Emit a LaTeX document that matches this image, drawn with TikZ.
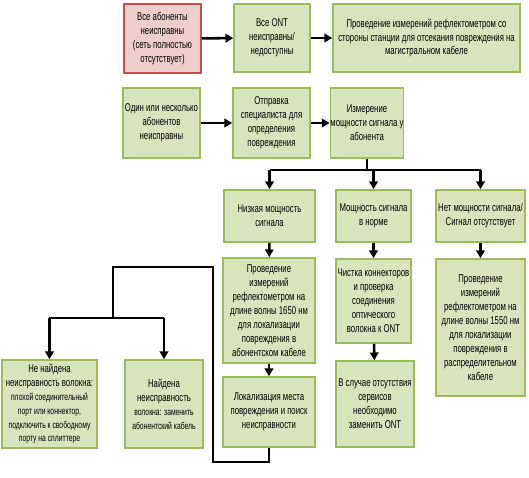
\documentclass[tikz,border=0pt]{standalone}
\usepackage{fontspec}
\setmainfont{Liberation Sans}[FakeStretch=0.69]
\usetikzlibrary{arrows.meta}
\newcommand{\smalltxt}{\fontsize{7}{9.2}\selectfont}
\begin{document}
\begin{tikzpicture}[x=0.025cm,y=-0.025cm,
  box/.style={draw=boxline,fill=boxfill,line width=1.1pt,align=center,inner sep=0pt,
    font=\fontsize{8}{9.9}\selectfont},
  bad/.style={box,draw=badline,fill=badfill},
  sz/.style 2 args={minimum width=#1*0.025cm,minimum height=#2*0.025cm},
  link/.style={line width=1.8pt},
  arr/.style={link,-{Triangle[length=5.5pt,width=6pt]}}]
\definecolor{boxfill}{RGB}{215,228,189}
\definecolor{boxline}{RGB}{155,187,89}
\definecolor{badfill}{RGB}{238,206,205}
\definecolor{badline}{RGB}{192,80,77}
	\useasboundingbox (0,0) rectangle (529,478);
	% top row
	\node[bad,sz={77}{69}] (all) at (162.5,38.5) {Все абоненты\\неисправны\\(сеть полностью\\отсутствует)};
	\node[box,sz={76}{68}] (ont) at (272,38) {Все ONT\\неисправны/\\недоступны};
	\node[box,sz={187}{68}] (otdr) at (426.5,38) {Проведение измерений рефлектометром со\\стороны станции для отсекания повреждения на\\магистральном кабеле};
	% second row
	\node[box,sz={77}{70}] (some) at (161.5,123) {Один или несколько\\абонентов\\неисправны};
	\node[box,sz={77}{70}] (tech) at (271.5,123) {Отправка\\специалиста для\\определения\\повреждения};
	\node[box,sz={70}{70}] (meas) at (367,123) {Измерение\\мощности сигнала у\\абонента};
	% signal levels
	\node[box,sz={91}{52}] (low) at (269.5,216) {Низкая мощность\\сигнала};
	\node[box,sz={75}{52}] (norm) at (373.5,216) {Мощность сигнала\\в норме};
	\node[box,sz={89}{52}] (none) at (480.5,216) {Нет мощности сигнала/\\Сигнал отсутствует};
	\node[box,sz={92}{105}] (r1650) at (269,310.5) {Проведение\\измерений\\рефлектометром на\\длине волны 1650 нм\\для локализации\\повреждения в\\абонентском кабеле};
	\node[box,sz={92}{70}] (loc) at (269,412) {Локализация места\\повреждения и поиск\\неисправности};
	\node[box,sz={75}{84}] (clean) at (373.5,301) {Чистка коннекторов\\и проверка\\соединения\\оптического\\волокна к ONT};
	\node[box,sz={78}{86}] (repl) at (375,404) {В случае отсутствия\\сервисов\\необходимо\\заменить ONT};
	\node[box,sz={89}{137}] (r1550) at (480.5,327.5) {Проведение\\измерений\\рефлектометром на\\длине волны 1550 нм\\для локализации\\повреждения в\\распределительном\\кабеле};
	% results
	\node[box,sz={95}{88}] (port) at (49.5,404) {Не найдена\\неисправность волокна:\\{\smalltxt плохой соединительный}\\{\smalltxt порт или коннектор,}\\{\smalltxt подключить к свободному}\\{\smalltxt порту на сплиттере}};
	\node[box,sz={78}{88}] (cable) at (164,404) {Найдена\\неисправность\\{\smalltxt волокна: заменить}\\{\smalltxt абонентский кабель}};
	\coordinate (fork) at (371,170);
	\coordinate (b1) at (269,462);
	\coordinate (b2) at (213,462);
	\coordinate (b3) at (213,267);
	\coordinate (b4) at (113,267);
	\coordinate (b5) at (113,318);
	\draw[arr] (all) -- (ont);
	\draw[arr] (ont) -- (otdr);
	\draw[arr] (some) -- (tech);
	\draw[arr] (tech) -- (meas);
	\draw[link] (meas.south) -- (meas.south |- fork);
	\draw[link] (low |- fork) -- (none |- fork);
	\draw[arr] (low |- fork) -- (low);
	\draw[arr] (norm |- fork) -- (norm);
	\draw[arr] (none |- fork) -- (none);
	\draw[arr] (low) -- (r1650);
	\draw[arr] (r1650) -- (loc);
	\draw[arr] (norm) -- (clean);
	\draw[arr] (clean) -- (repl);
	\draw[arr] (none) -- (r1550);
	\draw[link] (loc) -- (b1) -- (b2) -- (b3) -- (b4) -- (b5);
	\draw[link] (port |- b5) -- (cable |- b5);
	\draw[arr] (port |- b5) -- (port);
	\draw[arr] (cable |- b5) -- (cable);
\end{tikzpicture}
\end{document}
